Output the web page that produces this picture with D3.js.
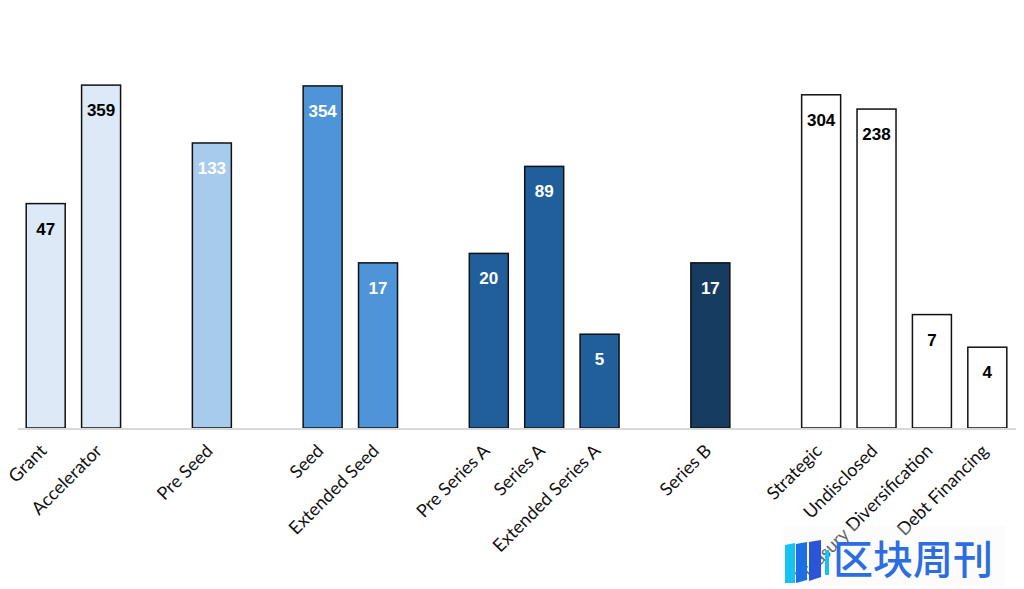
<!DOCTYPE html>
<html>
<head>
<meta charset="utf-8">
<script src="https://cdn.jsdelivr.net/npm/d3@7"></script>
<style>
  body { margin: 0; background: #fff; }
  svg { display: block; }
</style>
</head>
<body>
<svg width="1024" height="589"></svg>
<script>
// categories, with blank spacer slots between the stage groups
const categories = ['Grant', 'Accelerator', '_g1', 'Pre Seed', '_g2', 'Seed', 'Extended Seed', '_g3',
  'Pre Series A', 'Series A', 'Extended Series A', '_g4', 'Series B', '_g5',
  'Strategic', 'Undisclosed', 'Treasury Diversification', 'Debt Financing'];
const labels = ['Grant', 'Accelerator', 'Pre Seed', 'Seed', 'Extended Seed',
  'Pre Series A', 'Series A', 'Extended Series A', 'Series B',
  'Strategic', 'Undisclosed', 'Treasury Diversification', 'Debt Financing'];
const values = [47, 359, 133, 354, 17, 20, 89, 5, 17, 304, 238, 7, 4];
const fills = ['#dde9f6', '#dde9f6', '#a7cbec', '#4e94d9', '#4e94d9',
  '#215f9b', '#215f9b', '#215f9b', '#173c62',
  '#ffffff', '#ffffff', '#ffffff', '#ffffff'];
const textColors = ['#000', '#000', '#fff', '#fff', '#fff', '#fff', '#fff', '#fff', '#fff',
  '#000', '#000', '#000', '#000'];

const data = labels.map((d, i) => ({ name: d, value: values[i], fill: fills[i], tc: textColors[i] }));

const svg = d3.select('svg');
const baseY = 428;

const x = d3.scaleBand()
  .domain(categories)
  .range([18, 1015])
  .paddingInner(0.296)
  .paddingOuter(0.148);

// log scale, ~134 px per decade
const y = d3.scaleLog()
  .domain([1, 1000])
  .range([baseY, baseY - 3 * 134.2]);

svg.selectAll('rect.bar')
  .data(data)
  .enter().append('rect')
  .attr('class', 'bar')
  .attr('x', d => x(d.name))
  .attr('y', d => y(d.value))
  .attr('width', x.bandwidth())
  .attr('height', d => baseY - y(d.value))
  .attr('fill', d => d.fill)
  .attr('stroke', '#111')
  .attr('stroke-width', 1.5);

// value labels
svg.selectAll('text.val')
  .data(data)
  .enter().append('text')
  .attr('class', 'val')
  .attr('x', d => x(d.name) + x.bandwidth() / 2)
  .attr('y', d => y(d.value) + 31)
  .attr('text-anchor', 'middle')
  .attr('font-family', 'Liberation Sans, Arial, sans-serif')
  .attr('font-weight', 'bold')
  .attr('font-size', 17)
  .attr('fill', d => d.tc)
  .text(d => d.value);

// baseline
svg.append('line')
  .attr('x1', 18).attr('x2', 1016)
  .attr('y1', baseY + 1).attr('y2', baseY + 1)
  .attr('stroke', '#d9d9d9')
  .attr('stroke-width', 2);

// category labels rotated
svg.selectAll('text.cat')
  .data(data)
  .enter().append('text')
  .attr('class', 'cat')
  .attr('text-anchor', 'end')
  .attr('font-family', 'Lato, "Open Sans", sans-serif')
  .attr('font-size', 18)
  .attr('fill', '#111')
  .attr('transform', d => `translate(${x(d.name) + x.bandwidth() / 2 + 2},${baseY + 24}) rotate(-45)`)
  .text(d => d.name);

// watermark
const wm = svg.append('g').attr('transform', 'translate(785,540)');
wm.append('rect').attr('x', -2).attr('y', -14).attr('width', 222).attr('height', 60)
  .attr('fill', '#f6f7f9').attr('opacity', 0.35);
wm.append('path').attr('d', 'M0,5 L10,3 L10,43 L0,43 Z').attr('fill', '#19c3f0');
wm.append('path').attr('d', 'M11,4 L22,2 L22,40 L11,43 Z').attr('fill', '#1c6fe4');
wm.append('path').attr('d', 'M24,2 L36,0 L36,37 L24,41 Z').attr('fill', '#2a55d8');
wm.append('rect').attr('x', 40).attr('y', 10).attr('width', 4).attr('height', 25).attr('fill', '#19c3f0');
wm.append('text')
  .attr('x', 48).attr('y', 34)
  .attr('font-family', '"Noto Sans CJK SC", sans-serif')
  .attr('font-weight', 500)
  .attr('font-size', 40)
  .attr('fill', '#2c6de2')
  .text('区块周刊');
</script>
</body>
</html>
